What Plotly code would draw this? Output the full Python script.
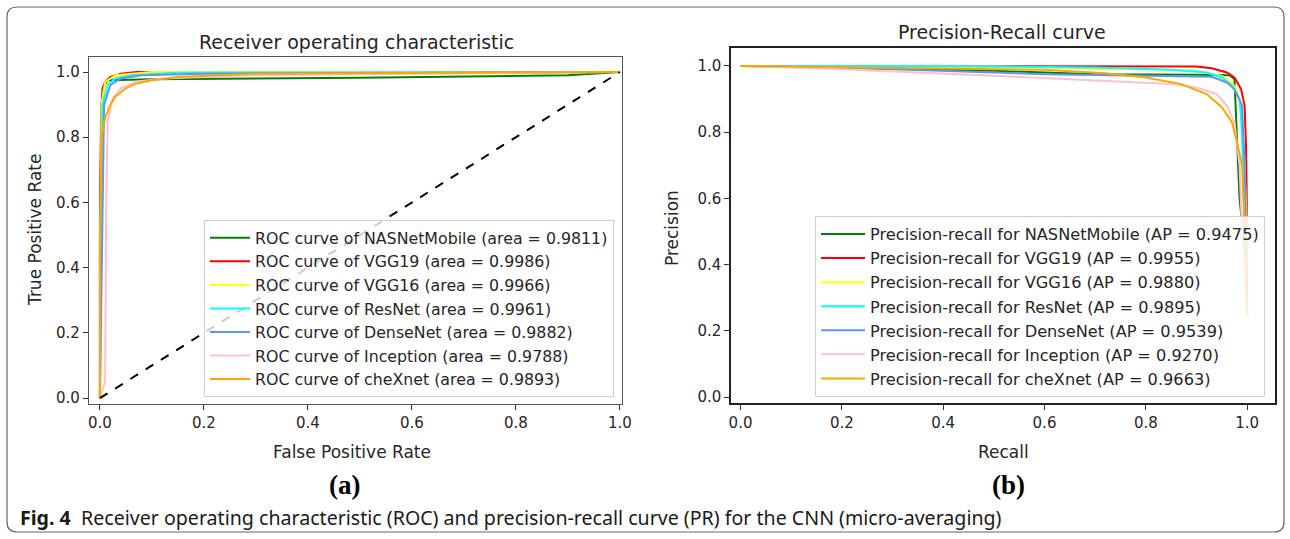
import plotly.graph_objects as go

W, H = 1290, 539

models = ["NASNetMobile", "VGG19", "VGG16", "ResNet", "DenseNet", "Inception", "cheXnet"]
colors = ["#008000", "#ff0000", "#ffff00", "#00ffff", "#6495ed", "#ffc0cb", "#ffa500"]
roc_auc = ["0.9811", "0.9986", "0.9966", "0.9961", "0.9882", "0.9788", "0.9893"]
pr_ap = ["0.9475", "0.9955", "0.9880", "0.9895", "0.9539", "0.9270", "0.9663"]

# ROC curves (FPR, TPR)
roc_fpr_nas = [0, 0.001, 0.003, 0.008, 0.015, 0.1, 0.5, 0.9, 1.0]
roc_tpr_nas = [0, 0.6, 0.9, 0.96, 0.975, 0.978, 0.982, 0.99, 1.0]
roc_fpr_vgg19 = [0, 0.0, 0.002, 0.005, 0.01, 0.02, 0.04, 0.07, 1.0]
roc_tpr_vgg19 = [0, 0.5, 0.85, 0.95, 0.97, 0.985, 0.995, 1.0, 1.0]
roc_fpr_vgg16 = [0, 0.001, 0.003, 0.01, 0.03, 0.1, 1.0]
roc_tpr_vgg16 = [0, 0.5, 0.9, 0.97, 0.99, 1.0, 1.0]
roc_fpr_res = [0, 0.002, 0.005, 0.015, 0.03, 0.06, 0.15, 1.0]
roc_tpr_res = [0, 0.5, 0.9, 0.96, 0.98, 0.99, 0.998, 1.0]
roc_fpr_dense = [0, 0.004, 0.008, 0.02, 0.04, 0.08, 0.2, 1.0]
roc_tpr_dense = [0, 0.5, 0.9, 0.96, 0.98, 0.99, 0.995, 1.0]
roc_fpr_inc = [0, 0.01, 0.012, 0.015, 0.025, 0.04, 0.07, 0.12, 0.3, 0.6, 1.0]
roc_tpr_inc = [0, 0.05, 0.6, 0.85, 0.92, 0.95, 0.97, 0.98, 0.99, 0.995, 1.0]
roc_fpr_chex = [0, 0.0, 0.003, 0.01, 0.02, 0.03, 0.05, 0.07, 0.1, 0.15, 0.3, 1.0]
roc_tpr_chex = [0, 0.5, 0.8, 0.86, 0.9, 0.925, 0.95, 0.965, 0.975, 0.985, 0.995, 1.0]

# Precision-recall curves (recall, precision)
pr_rec_nas = [0, 0.2, 0.5, 0.7, 0.9, 0.965, 0.975, 0.978, 0.985, 0.995, 1.0]
pr_prec_nas = [1.0, 0.995, 0.985, 0.975, 0.973, 0.972, 0.96, 0.84, 0.6, 0.45, 0.25]
pr_rec_vgg19 = [0, 0.3, 0.6, 0.85, 0.9, 0.93, 0.96, 0.975, 0.988, 0.995, 0.998, 1.0, 1.0]
pr_prec_vgg19 = [1.0, 1.0, 1.0, 1.0, 0.998, 0.993, 0.98, 0.965, 0.93, 0.88, 0.75, 0.5, 0.25]
pr_rec_vgg16 = [0, 0.5, 0.8, 0.9, 0.95, 0.975, 0.99, 0.995, 1.0, 1.0]
pr_prec_vgg16 = [1.0, 0.998, 0.99, 0.985, 0.97, 0.94, 0.88, 0.7, 0.5, 0.25]
pr_rec_res = [0, 0.4, 0.7, 0.85, 0.92, 0.95, 0.97, 0.985, 0.99, 0.993, 1.0]
pr_prec_res = [1.0, 1.0, 0.995, 0.988, 0.98, 0.965, 0.94, 0.9, 0.8, 0.6, 0.25]
pr_rec_dense = [0, 0.3, 0.6, 0.8, 0.93, 0.96, 0.975, 0.99, 0.995, 0.998, 1.0]
pr_prec_dense = [1.0, 0.99, 0.975, 0.97, 0.967, 0.95, 0.93, 0.88, 0.7, 0.5, 0.25]
pr_rec_inc = [0, 0.2, 0.5, 0.7, 0.85, 0.9, 0.94, 0.96, 0.975, 0.985, 0.99, 1.0]
pr_prec_inc = [1.0, 0.99, 0.97, 0.955, 0.945, 0.935, 0.915, 0.88, 0.83, 0.7, 0.5, 0.25]
pr_rec_chex = [0, 0.3, 0.6, 0.72, 0.8, 0.87, 0.92, 0.95, 0.97, 0.98, 0.99, 0.996, 1.0]
pr_prec_chex = [1.0, 0.995, 0.988, 0.978, 0.965, 0.945, 0.915, 0.875, 0.83, 0.77, 0.7, 0.5, 0.25]

roc_x = [roc_fpr_nas, roc_fpr_vgg19, roc_fpr_vgg16, roc_fpr_res, roc_fpr_dense, roc_fpr_inc, roc_fpr_chex]
roc_y = [roc_tpr_nas, roc_tpr_vgg19, roc_tpr_vgg16, roc_tpr_res, roc_tpr_dense, roc_tpr_inc, roc_tpr_chex]
pr_x = [pr_rec_nas, pr_rec_vgg19, pr_rec_vgg16, pr_rec_res, pr_rec_dense, pr_rec_inc, pr_rec_chex]
pr_y = [pr_prec_nas, pr_prec_vgg19, pr_prec_vgg16, pr_prec_res, pr_prec_dense, pr_prec_inc, pr_prec_chex]

tick_vals = [0.0, 0.2, 0.4, 0.6, 0.8, 1.0]
tick_text = ["0.0", "0.2", "0.4", "0.6", "0.8", "1.0"]

FONT = "DejaVu Sans"
TXT = "#262626"

def px(x):
    return x / W

def py(y):
    return 1 - y / H

fig = go.Figure()

for i, m in enumerate(models):
    fig.add_trace(go.Scatter(
        x=roc_x[i], y=roc_y[i], mode="lines",
        line=dict(color=colors[i], width=2),
        name=f"ROC curve of {m} (area = {roc_auc[i]})",
        legend="legend", legendgroup=f"roc{i}",
        xaxis="x", yaxis="y"))

fig.add_trace(go.Scatter(
    x=[0, 1], y=[0, 1], mode="lines",
    line=dict(color="black", width=2, dash="dash"),
    showlegend=False, xaxis="x", yaxis="y"))

for i, m in enumerate(models):
    fig.add_trace(go.Scatter(
        x=pr_x[i], y=pr_y[i], mode="lines",
        line=dict(color=colors[i], width=2),
        name=f"Precision-recall for {m} (AP = {pr_ap[i]})",
        legend="legend2", legendgroup=f"pr{i}",
        xaxis="x2", yaxis="y2"))

axis_common = dict(
    tickmode="array", tickvals=tick_vals, ticktext=tick_text,
    ticks="outside", ticklen=5, tickwidth=1, tickcolor="#333",
    tickfont=dict(family=FONT, size=15, color=TXT),
    showgrid=False, zeroline=False, showline=True, mirror=True,
    automargin=False,
)

fig.update_layout(
    width=W, height=H,
    margin=dict(l=0, r=0, t=0, b=0),
    paper_bgcolor="white", plot_bgcolor="white",
    xaxis=dict(domain=[px(89), px(622)], range=[-0.021, 1.004], anchor="y",
               linecolor="#555", linewidth=1.3, **axis_common),
    yaxis=dict(domain=[py(404), py(57)], range=[-0.018, 1.046], anchor="x",
               linecolor="#555", linewidth=1.3, **axis_common),
    xaxis2=dict(domain=[px(731), px(1275)], range=[-0.0188, 1.055], anchor="y2",
                linecolor="#222", linewidth=1.5, **axis_common),
    yaxis2=dict(domain=[py(403), py(48)], range=[-0.018, 1.054], anchor="x2",
                linecolor="#222", linewidth=1.5, **axis_common),
    legend=dict(x=px(204), y=py(220), xanchor="left", yanchor="top",
                bgcolor="rgba(255,255,255,0.8)", bordercolor="#d0d0d0", borderwidth=1,
                font=dict(family=FONT, size=15.8, color=TXT), tracegroupgap=0,
                itemwidth=40),
    legend2=dict(x=px(815), y=py(216), xanchor="left", yanchor="top",
                 bgcolor="rgba(255,255,255,0.8)", bordercolor="#d0d0d0", borderwidth=1,
                 font=dict(family=FONT, size=16.2, color=TXT), tracegroupgap=0,
                 itemwidth=44),
    showlegend=True,
)

ann = []
def add_text(text, x, y, size, family=FONT, color=TXT, angle=0, xanchor="center"):
    ann.append(dict(text=text, x=px(x), y=py(y), xref="paper", yref="paper",
                    xanchor=xanchor, yanchor="middle", showarrow=False, textangle=angle,
                    font=dict(family=family, size=size, color=color)))

add_text("Receiver operating characteristic", 356, 42, 19)
add_text("Precision-Recall curve", 1002, 32, 19)
add_text("True Positive Rate", 35, 230, 17, angle=-90)
add_text("False Positive Rate", 352, 452, 17)
add_text("Precision", 672, 228, 17, angle=-90)
add_text("Recall", 1003, 452, 17)
add_text("<b>(a)</b>", 345, 485, 27, family="Liberation Serif", color="black")
add_text("<b>(b)</b>", 1008, 485, 27, family="Liberation Serif", color="black")
add_text("<b>Fig. 4</b>  Receiver operating characteristic (ROC) and precision-recall curve (PR) for the CNN (micro-averaging)",
         18, 517, 19.6, family="Noto Sans", color="#1a1a1a", xanchor="left")
fig.update_layout(annotations=ann)

# rounded outer frame
L, T, R, B, r = 7, 7, 1284, 532, 10
def P(x, y):
    return f"{px(x):.6f},{py(y):.6f}"
path = (f"M {P(L + r, T)} L {P(R - r, T)} Q {P(R, T)} {P(R, T + r)} "
        f"L {P(R, B - r)} Q {P(R, B)} {P(R - r, B)} L {P(L + r, B)} "
        f"Q {P(L, B)} {P(L, B - r)} L {P(L, T + r)} Q {P(L, T)} {P(L + r, T)} Z")
fig.add_shape(type="path", path=path, xref="paper", yref="paper",
              line=dict(color="#666", width=1.2), layer="below")

fig.write_html(
    "out.html",
    config={"displayModeBar": False},
    post_script="document.body.style.margin='0';document.body.style.padding='0';document.body.style.overflow='hidden';",
)
